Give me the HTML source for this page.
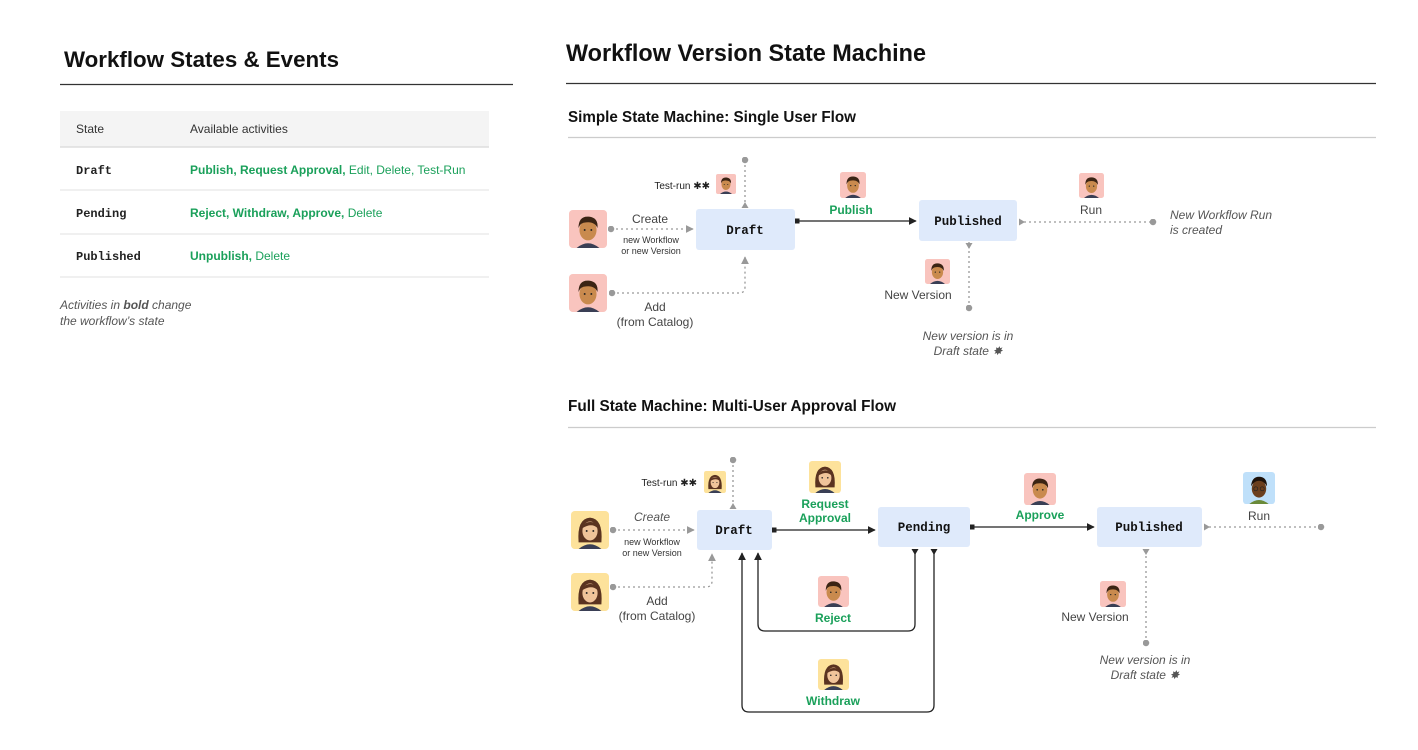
<!DOCTYPE html>
<html><head><meta charset="utf-8"><style>
html,body{margin:0;padding:0;background:#fff;}
svg{display:block;font-family:"Liberation Sans",sans-serif;}
.mono{font-family:"Liberation Mono",monospace;font-weight:bold;}
.g{fill:#1aa05a;}
.lbl{fill:#444;font-size:12px;}
.it{font-style:italic;fill:#555;font-size:12px;}
.sm{font-size:9px;fill:#333;}
.dot{stroke:#999;stroke-width:1.3;stroke-dasharray:2 3;fill:none;}
.sol{stroke:#222;stroke-width:1.3;fill:none;}
.tg{fill:#999;}
.tb{fill:#222;}
</style></head><body>
<svg width="1418" height="750" viewBox="0 0 1418 750" xmlns="http://www.w3.org/2000/svg">
<defs>
<marker id="ag" viewBox="0 0 10 10" refX="9" refY="5" markerWidth="6" markerHeight="6" orient="auto"><path d="M0,0L10,5L0,10z" fill="#999"/></marker>
<marker id="ab" viewBox="0 0 10 10" refX="9" refY="5" markerWidth="6" markerHeight="6" orient="auto"><path d="M0,0L10,5L0,10z" fill="#222"/></marker>
<marker id="dg" viewBox="0 0 10 10" refX="5" refY="5" markerWidth="5" markerHeight="5"><circle cx="5" cy="5" r="5" fill="#999"/></marker>
<marker id="sb" viewBox="0 0 10 10" refX="5" refY="5" markerWidth="4" markerHeight="4"><rect width="10" height="10" fill="#222"/></marker>
<symbol id="man" viewBox="0 0 40 40"><rect width="40" height="40" rx="4" fill="#f9c4be"/><path d="M8,40 Q20,30 32,40z" fill="#3a3f55"/><ellipse cx="20" cy="21" rx="9" ry="11" fill="#c98a4e"/><path d="M10,19 Q10,6 21,7 Q31,8 30,19 Q27,12 18,13 Q12,13 10,19z" fill="#3b2414"/><circle cx="16.5" cy="21" r="1" fill="#222"/><circle cx="23.5" cy="21" r="1" fill="#222"/></symbol>
<symbol id="woman" viewBox="0 0 40 40"><rect width="40" height="40" rx="4" fill="#fde29b"/><path d="M8,33 Q6,8 20,7 Q34,8 32,33z" fill="#5a3320"/><path d="M8,40 Q20,30 32,40z" fill="#3a3f55"/><ellipse cx="20" cy="21" rx="8" ry="10" fill="#f0c49a"/><path d="M12,18 Q14,10 24,12 Q28,14 28,18 Q22,12 12,18z" fill="#5a3320"/><circle cx="16.5" cy="21" r="1" fill="#222"/><circle cx="23.5" cy="21" r="1" fill="#222"/></symbol>
<symbol id="blk" viewBox="0 0 40 40"><rect width="40" height="40" rx="4" fill="#bfe0fa"/><path d="M8,40 Q20,30 32,40z" fill="#6a8a3a"/><ellipse cx="20" cy="21" rx="9" ry="11" fill="#6b3f1e"/><path d="M10,18 Q11,6 20,6 Q30,6 30,18 Q26,11 20,11 Q14,11 10,18z" fill="#1d120b"/><circle cx="16" cy="21" r="2.5" fill="none" stroke="#222" stroke-width="0.8"/><circle cx="24" cy="21" r="2.5" fill="none" stroke="#222" stroke-width="0.8"/></symbol>
</defs>

<!-- LEFT -->
<text x="64" y="67" font-size="22" font-weight="bold" fill="#111" textLength="275" lengthAdjust="spacingAndGlyphs">Workflow States &amp; Events</text>
<line x1="60" y1="84.5" x2="513" y2="84.5" stroke="#333" stroke-width="1.2"/>
<rect x="60" y="111" width="429" height="36" fill="#f4f4f4"/>
<line x1="60" y1="147" x2="489" y2="147" stroke="#ddd" stroke-width="1.5"/>
<text x="76" y="133" font-size="12" fill="#333">State</text>
<text x="190" y="133" font-size="12" fill="#333">Available activities</text>
<line x1="60" y1="190" x2="489" y2="190" stroke="#e6e6e6" stroke-width="1.2"/>
<line x1="60" y1="234" x2="489" y2="234" stroke="#e6e6e6" stroke-width="1.2"/>
<line x1="60" y1="277" x2="489" y2="277" stroke="#e6e6e6" stroke-width="1.2"/>
<text x="76" y="174" font-size="12" class="mono" fill="#222">Draft</text>
<text x="76" y="217" font-size="12" class="mono" fill="#222">Pending</text>
<text x="76" y="260" font-size="12" class="mono" fill="#222">Published</text>
<text x="190" y="174" font-size="12" class="g"><tspan font-weight="bold">Publish, Request Approval,</tspan> Edit, Delete, Test-Run</text>
<text x="190" y="217" font-size="12" class="g"><tspan font-weight="bold">Reject, Withdraw, Approve,</tspan> Delete</text>
<text x="190" y="260" font-size="12" class="g"><tspan font-weight="bold">Unpublish,</tspan> Delete</text>
<text x="60" y="309" class="it" font-size="11.5" fill="#777">Activities in <tspan font-weight="bold">bold</tspan> change</text>
<text x="60" y="325" class="it" font-size="11.5" fill="#777">the workflow’s state</text>

<!-- RIGHT headings -->
<text x="566" y="61" font-size="24" font-weight="bold" fill="#111" textLength="360" lengthAdjust="spacingAndGlyphs">Workflow Version State Machine</text>
<line x1="566" y1="83.5" x2="1376" y2="83.5" stroke="#333" stroke-width="1.2"/>
<text x="568" y="122" font-size="15.5" font-weight="bold" fill="#111" textLength="288" lengthAdjust="spacingAndGlyphs">Simple State Machine: Single User Flow</text>
<line x1="568" y1="137.5" x2="1376" y2="137.5" stroke="#ccc" stroke-width="1.2"/>
<text x="568" y="411" font-size="15.5" font-weight="bold" fill="#111" textLength="328" lengthAdjust="spacingAndGlyphs">Full State Machine: Multi-User Approval Flow</text>
<line x1="568" y1="427.5" x2="1376" y2="427.5" stroke="#ccc" stroke-width="1.2"/>

<!-- SIMPLE -->
<path class="dot" d="M611,229 H693" marker-start="url(#dg)" marker-end="url(#ag)"/>
<path class="dot" d="M612,293 H739 Q745,293 745,287 V257" marker-start="url(#dg)" marker-end="url(#ag)"/>
<path class="dot" d="M745,160 V208" marker-start="url(#dg)"/>
<polygon class="tg" points="741.5,208 748.5,208 745,202"/>
<path class="sol" d="M797,221 H916" marker-start="url(#sb)" marker-end="url(#ab)"/>
<path class="dot" d="M1019,222 H1153" marker-end="url(#dg)"/>
<polygon class="tg" points="1019,218.5 1019,225.5 1025,222"/>
<path class="dot" d="M969,308 V242" marker-start="url(#dg)"/>
<polygon class="tg" points="965.5,243 972.5,243 969,249"/>
<rect x="696" y="209" width="99" height="41" rx="3" fill="#dfeafb"/>
<text x="745" y="234" text-anchor="middle" font-size="12.5" class="mono" fill="#111">Draft</text>
<rect x="919" y="200" width="98" height="41" rx="3" fill="#dfeafb"/>
<text x="968" y="225" text-anchor="middle" font-size="12.5" class="mono" fill="#111">Published</text>
<use href="#man" x="569" y="210" width="38" height="38"/>
<use href="#man" x="569" y="274" width="38" height="38"/>
<use href="#man" x="716" y="174" width="20" height="20"/>
<use href="#man" x="840" y="172" width="26" height="26"/>
<use href="#man" x="925" y="259" width="25" height="25"/>
<use href="#man" x="1079" y="173" width="25" height="25"/>
<text x="650" y="223" text-anchor="middle" class="lbl">Create</text>
<text x="651" y="243" text-anchor="middle" class="sm">new Workflow</text>
<text x="651" y="254" text-anchor="middle" class="sm">or new Version</text>
<text x="655" y="311" text-anchor="middle" class="lbl">Add</text>
<text x="655" y="326" text-anchor="middle" class="lbl">(from Catalog)</text>
<text x="710" y="189" text-anchor="end" font-size="10" fill="#222">Test-run ✱✱</text>
<text x="851" y="214" text-anchor="middle" font-size="12" font-weight="bold" class="g">Publish</text>
<text x="1091" y="214" text-anchor="middle" class="lbl">Run</text>
<text x="1170" y="219" class="it">New Workflow Run</text>
<text x="1170" y="234" class="it">is created</text>
<text x="918" y="299" text-anchor="middle" class="lbl">New Version</text>
<text x="968" y="340" text-anchor="middle" class="it">New version is in</text>
<text x="968" y="355" text-anchor="middle" class="it">Draft state ✸</text>

<!-- FULL -->
<path class="dot" d="M613,530 H694" marker-start="url(#dg)" marker-end="url(#ag)"/>
<path class="dot" d="M613,587 H706 Q712,587 712,581 V554" marker-start="url(#dg)" marker-end="url(#ag)"/>
<path class="dot" d="M733,460 V509" marker-start="url(#dg)"/>
<polygon class="tg" points="729.5,509 736.5,509 733,503"/>
<path class="sol" d="M774,530 H875" marker-start="url(#sb)" marker-end="url(#ab)"/>
<path class="sol" d="M915,549 V624 Q915,631 908,631 H765 Q758,631 758,624 V553" marker-end="url(#ab)"/>
<polygon class="tb" points="911.5,549 918.5,549 915,555"/>
<path class="sol" d="M934,549 V705 Q934,712 927,712 H749 Q742,712 742,705 V553" marker-end="url(#ab)"/>
<polygon class="tb" points="930.5,549 937.5,549 934,555"/>
<path class="sol" d="M972,527 H1094" marker-start="url(#sb)" marker-end="url(#ab)"/>
<path class="dot" d="M1204,527 H1321" marker-end="url(#dg)"/>
<polygon class="tg" points="1204,523.5 1204,530.5 1210,527"/>
<path class="dot" d="M1146,643 V548" marker-start="url(#dg)"/>
<polygon class="tg" points="1142.5,549 1149.5,549 1146,555"/>
<rect x="697" y="510" width="75" height="40" rx="3" fill="#dfeafb"/>
<text x="734" y="534" text-anchor="middle" font-size="12.5" class="mono" fill="#111">Draft</text>
<rect x="878" y="507" width="92" height="40" rx="3" fill="#dfeafb"/>
<text x="924" y="531" text-anchor="middle" font-size="12.5" class="mono" fill="#111">Pending</text>
<rect x="1097" y="507" width="105" height="40" rx="3" fill="#dfeafb"/>
<text x="1149" y="531" text-anchor="middle" font-size="12.5" class="mono" fill="#111">Published</text>
<use href="#woman" x="571" y="511" width="38" height="38"/>
<use href="#woman" x="571" y="573" width="38" height="38"/>
<use href="#woman" x="704" y="471" width="22" height="22"/>
<use href="#woman" x="809" y="461" width="32" height="32"/>
<use href="#man" x="818" y="576" width="31" height="31"/>
<use href="#woman" x="818" y="659" width="31" height="31"/>
<use href="#man" x="1024" y="473" width="32" height="32"/>
<use href="#blk" x="1243" y="472" width="32" height="32"/>
<use href="#man" x="1100" y="581" width="26" height="26"/>
<text x="652" y="521" text-anchor="middle" class="it">Create</text>
<text x="652" y="545" text-anchor="middle" class="sm">new Workflow</text>
<text x="652" y="556" text-anchor="middle" class="sm">or new Version</text>
<text x="657" y="605" text-anchor="middle" class="lbl">Add</text>
<text x="657" y="620" text-anchor="middle" class="lbl">(from Catalog)</text>
<text x="697" y="486" text-anchor="end" font-size="10" fill="#222">Test-run ✱✱</text>
<text x="825" y="508" text-anchor="middle" font-size="12" font-weight="bold" class="g">Request</text>
<text x="825" y="522" text-anchor="middle" font-size="12" font-weight="bold" class="g">Approval</text>
<text x="833" y="622" text-anchor="middle" font-size="12" font-weight="bold" class="g">Reject</text>
<text x="833" y="705" text-anchor="middle" font-size="12" font-weight="bold" class="g">Withdraw</text>
<text x="1040" y="519" text-anchor="middle" font-size="12" font-weight="bold" class="g">Approve</text>
<text x="1259" y="520" text-anchor="middle" class="lbl">Run</text>
<text x="1095" y="621" text-anchor="middle" class="lbl">New Version</text>
<text x="1145" y="664" text-anchor="middle" class="it">New version is in</text>
<text x="1145" y="679" text-anchor="middle" class="it">Draft state ✸</text>
</svg>
</body></html>
